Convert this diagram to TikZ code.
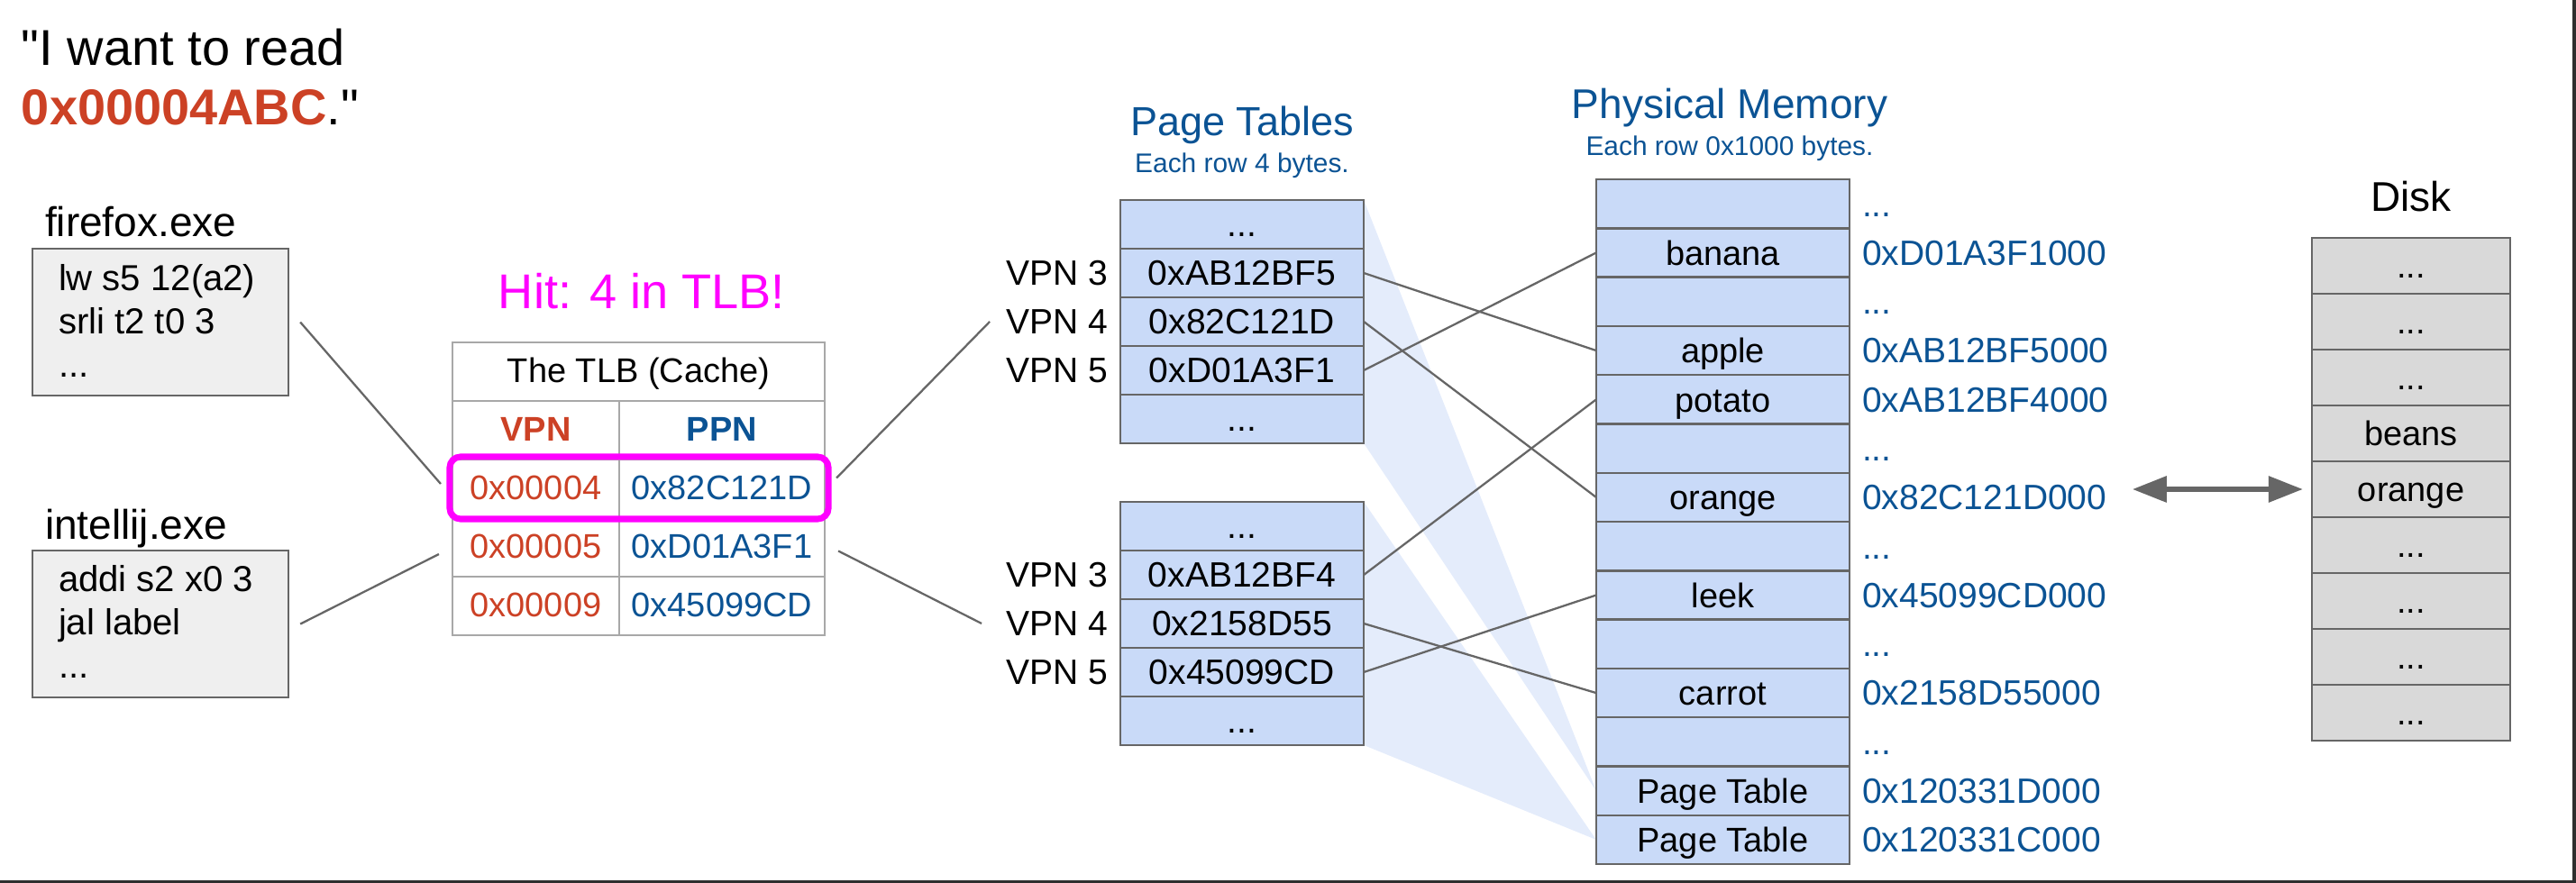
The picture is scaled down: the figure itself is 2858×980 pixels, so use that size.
\documentclass[tikz,border=0pt]{standalone}
\usepackage{fontspec}
\setmainfont{Liberation Sans}
\newfontfamily\quotefont{Liberation Sans}
\usetikzlibrary{arrows.meta,positioning,backgrounds}

\definecolor{vpnred}{HTML}{CC4125}
\definecolor{ppnblue}{HTML}{0B5394}
\definecolor{rowblue}{HTML}{C9DAF8}
\definecolor{fanblue}{HTML}{E4ECFB}
\definecolor{wiregray}{HTML}{666666}
\definecolor{tlbgray}{HTML}{A8A8A8}
\definecolor{codegray}{HTML}{EFEFEF}
\definecolor{diskgray}{HTML}{D9D9D9}
\definecolor{framegray}{HTML}{2E2E2E}
\definecolor{hitpink}{HTML}{FF00FF}

\newcommand{\ellip}{...}
\newcommand{\straightq}{{\quotefont"}}

\tikzset{
	memrow/.style={draw=wiregray, line width=0.7pt, fill=rowblue, text height=9pt, text depth=1.1pt, font=\fontsize{11.1pt}{13pt}\selectfont},
	ptrow/.style={memrow, minimum width=2.70cm, minimum height=0.54cm},
	pmrow/.style={memrow, minimum width=2.81cm, minimum height=0.543cm, font=\fontsize{10.8pt}{13pt}\selectfont},
	diskrow/.style={memrow, fill=diskgray, minimum width=2.20cm, minimum height=0.62cm, font=\fontsize{10.8pt}{13pt}\selectfont},
	tlbbox/.style={draw=tlbgray, line width=0.75pt, minimum height=0.65cm, text height=8.4pt, text depth=1.6pt, font=\fontsize{10.8pt}{13pt}\selectfont},
	sidelabel/.style={text height=9pt, text depth=1.1pt, font=\fontsize{11.1pt}{13pt}\selectfont},
	wire/.style={draw=wiregray, line width=0.65pt},
	swaparrow/.style={draw=wiregray, line width=1.7pt, {Triangle[length=0.38cm,width=0.28cm]}-{Triangle[length=0.38cm,width=0.28cm]}},
	codebox/.style={draw=wiregray, line width=0.7pt, fill=codegray, minimum width=2.84cm, minimum height=1.63cm, anchor=north west},
	codeline/.style={anchor=base west, font=\fontsize{11.4pt}{13pt}\selectfont},
	exename/.style={anchor=base west, font=\fontsize{13.1pt}{15pt}\selectfont},
	heading/.style={anchor=base, text=ppnblue, font=\fontsize{13pt}{15pt}\selectfont},
	subheading/.style={anchor=base, text=ppnblue, font=\fontsize{8.5pt}{10pt}\selectfont},
}

\begin{document}
\begin{tikzpicture}[x=0.01cm, y=-0.01cm, every node/.append style={inner sep=0pt, outer sep=0pt}]
	\useasboundingbox (0,0) rectangle (2858,980);
	\fill[framegray] (2854,0) rectangle (2858,980);
	\fill[framegray] (0,977) rectangle (2858,980);
	
	% the request
	\node[anchor=base west, font=\fontsize{15.9pt}{19pt}\selectfont] (want) at (24,73) {\straightq I want to read};
	\node[anchor=base west, font=\fontsize{15.9pt}{19pt}\selectfont] (wantaddr) at (24,139) {\textcolor{vpnred}{\bfseries 0x00004ABC}.\straightq};
	
	% programs
	\node[codebox] (ffbox) at (36,276) {};
	\node[exename] (ffname) at (50,263) {firefox.exe};
	\foreach \txt [count=\i] in {lw s5 12(a2),srli t2 t0 3,\ellip}
		\node[codeline] (ffcode\i) at (65,275+48*\i) {\txt};
	
	\node[codebox] (ijbox) at (36,611) {};
	\node[exename] (ijname) at (50,599) {intellij.exe};
	\foreach \txt [count=\i] in {addi s2 x0 3,jal label,\ellip}
		\node[codeline] (ijcode\i) at (65,609+48*\i) {\txt};
	
	% TLB
	\node[anchor=base, text=hitpink, font=\fontsize{15.4pt}{18pt}\selectfont] (hit) at (712,343) {Hit: 4 in TLB!};
	\node[tlbbox, minimum width=4.13cm] (tlbhead) at (708.5,412.5) {The TLB (Cache)};
	\node[tlbbox, minimum width=1.85cm, text=vpnred] (tlbvpn) at (594.5,477.5) {\bfseries VPN};
	\node[tlbbox, minimum width=2.28cm, text=ppnblue] (tlbppn) at (801,477.5) {\bfseries PPN};
	\foreach \v/\p [count=\i] in {00004/82C121D,00005/D01A3F1,00009/45099CD}{
		\node[tlbbox, minimum width=1.85cm, text=vpnred] (tlbv\i) at (594.5,477.5+65*\i) {0x\v};
		\node[tlbbox, minimum width=2.28cm, text=ppnblue] (tlbp\i) at (801,477.5+65*\i) {0x\p};
	}
	\draw[hitpink, line width=2pt, rounded corners=0.12cm] ([shift={(-0.03cm,0.03cm)}]tlbv1.north west) rectangle ([shift={(0.04cm,-0.01cm)}]tlbp1.south east);
	
	% page tables
	\node[heading, font=\fontsize{12.8pt}{15pt}\selectfont] (pthead) at (1378,151) {Page Tables};
	\node[subheading] (ptsub) at (1378,192) {Each row 4 bytes.};
	\foreach \txt [count=\i] in {\ellip,0xAB12BF5,0x82C121D,0xD01A3F1,\ellip}
		\node[ptrow] (pta\i) at (1378,195+54*\i) {\txt};
	\foreach \txt [count=\i] in {\ellip,0xAB12BF4,0x2158D55,0x45099CD,\ellip}
		\node[ptrow] (ptb\i) at (1378,530+54*\i) {\txt};
	\foreach \i/\n in {2/3,3/4,4/5}{
		\node[sidelabel, left=0.14cm of pta\i] (vpnA\n) {VPN \n};
		\node[sidelabel, left=0.14cm of ptb\i] (vpnB\n) {VPN \n};
	}
	
	% physical memory
	\node[heading, font=\fontsize{13.1pt}{15pt}\selectfont] (pmhead) at (1919,132) {Physical Memory};
	\node[subheading] (pmsub) at (1919,173) {Each row 0x1000 bytes.};
	\foreach \food/\addr [count=\i] in {{}/\ellip,banana/0xD01A3F1000,{}/\ellip,apple/0xAB12BF5000,potato/0xAB12BF4000,{}/\ellip,orange/0x82C121D000,{}/\ellip,leek/0x45099CD000,{}/\ellip,carrot/0x2158D55000,{}/\ellip,Page Table/0x120331D000,Page Table/0x120331C000}{
		\node[pmrow] (pm\i) at (1911.5,171.9+54.29*\i) {\food};
		\node[sidelabel, text=ppnblue, right=0.14cm of pm\i] (addr\i) {\addr};
	}
	
	% disk
	\node[anchor=base, font=\fontsize{13.1pt}{15pt}\selectfont] (diskhead) at (2675,235) {Disk};
	\foreach \txt [count=\i] in {\ellip,\ellip,\ellip,beans,orange,\ellip,\ellip,\ellip,\ellip}
		\node[diskrow] (dk\i) at (2675,233+62*\i) {\txt};
	
	% where each page table lives
	\begin{scope}[on background layer]
		\fill[fanblue] (pta1.north east) -- (pm13.west) -- (pta5.south east) -- cycle;
		\fill[fanblue] (ptb1.north east) -- (pm14.west) -- (ptb5.south east) -- cycle;
	\end{scope}
	
	\draw[wire] ([xshift=0.13cm]ffbox.east) -- ([xshift=-0.13cm, yshift=0.055cm]tlbv1.west);
	\draw[wire] ([xshift=0.13cm]ijbox.east) -- ([xshift=-0.15cm, yshift=-0.075cm]tlbv2.west);
	\draw[wire] ([xshift=0.13cm, yshift=0.12cm]tlbp1.east) -- ([xshift=-0.18cm]vpnA4.west);
	\draw[wire] ([xshift=0.15cm, yshift=-0.04cm]tlbp2.east) -- ([xshift=-0.27cm]vpnB4.west);
	
	\draw[wire] (pta2.east) -- (pm4.west);
	\draw[wire] (pta3.east) -- (pm7.west);
	\draw[wire] (pta4.east) -- (pm2.west);
	\draw[wire] (ptb2.east) -- (pm5.west);
	\draw[wire] (ptb3.east) -- (pm11.west);
	\draw[wire] (ptb4.east) -- (pm9.west);
	
	\draw[swaparrow] ([xshift=-1.99cm]dk5.west) -- ([xshift=-0.10cm]dk5.west);
	
\end{tikzpicture}
\end{document}
